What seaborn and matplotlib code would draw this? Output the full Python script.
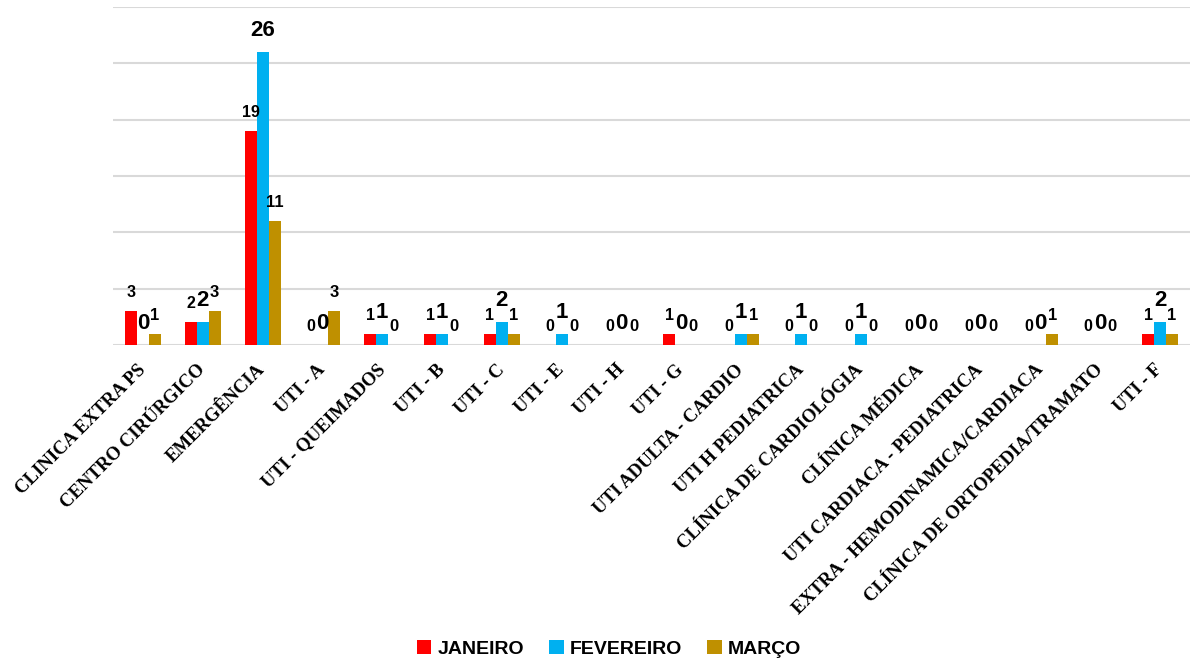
import matplotlib
matplotlib.use("Agg")
import matplotlib.pyplot as plt
import seaborn as sns
import pandas as pd
from matplotlib.patches import Patch
from matplotlib.font_manager import FontProperties

categories = [
    "CLINICA EXTRA PS", "CENTRO CIRÚRGICO", "EMERGÊNCIA", "UTI - A",
    "UTI - QUEIMADOS", "UTI - B", "UTI - C", "UTI - E", "UTI - H", "UTI - G",
    "UTI ADULTA - CARDIO", "UTI H PEDIATRICA", "CLÍNICA DE CARDIOLÓGIA",
    "CLÍNICA MÉDICA", "UTI CARDIACA - PEDIATRICA",
    "EXTRA - HEMODINAMICA/CARDIACA", "CLÍNICA DE ORTOPEDIA/TRAMATO", "UTI - F",
]
janeiro = [3, 2, 19, 0, 1, 1, 1, 0, 0, 1, 0, 0, 0, 0, 0, 0, 0, 1]
fevereiro = [0, 2, 26, 0, 1, 1, 2, 1, 0, 0, 1, 1, 1, 0, 0, 0, 0, 2]
marco = [1, 3, 11, 3, 0, 0, 1, 0, 0, 0, 1, 0, 0, 0, 0, 1, 0, 1]
series_names = ["JANEIRO", "FEVEREIRO", "MARÇO"]
colors = ["#FF0000", "#00B0F0", "#BF9000"]
label_sizes = [11.5, 16, 12]

df = pd.DataFrame({
    "setor": categories * 3,
    "mes": [series_names[0]] * len(categories) + [series_names[1]] * len(categories)
           + [series_names[2]] * len(categories),
    "valor": janeiro + fevereiro + marco,
})

sns.set_theme(style="white")
plt.rcParams["text.color"] = "black"
plt.rcParams["xtick.color"] = "black"
plt.rcParams["xtick.labelcolor"] = "black"

fig = plt.figure(figsize=(11.9, 6.67), dpi=100)
ax = fig.add_axes([113 / 1190, 1 - 345 / 667, 1 - 113 / 1190, (345 - 7) / 667])

sns.barplot(data=df, x="setor", y="valor", hue="mes", hue_order=series_names,
            palette=colors, width=0.6, saturation=1, ax=ax, legend=False,
            linewidth=0, errorbar=None)

ax.set_xlim(-0.5, len(categories) - 0.5)
ax.set_ylim(0, 30)
ax.set_yticks(range(0, 31, 5))
ax.yaxis.grid(True, color="#D9D9D9", linewidth=1.5)
ax.set_axisbelow(True)
ax.tick_params(axis="y", left=False, labelleft=False)
ax.tick_params(axis="x", bottom=False, pad=10, labelcolor="black")
for s in ax.spines.values():
    s.set_visible(False)
ax.set_xlabel("")
ax.set_ylabel("")

ax.set_xticks(range(len(categories)))
ax.set_xticklabels(categories, rotation=45, ha="right", va="center",
                   rotation_mode="anchor", family="Liberation Serif",
                   fontweight="bold", fontsize=13.5, color="black")

for container, fs in zip(ax.containers, label_sizes):
    ax.bar_label(container, fmt="%d", padding=8, fontsize=fs, color="black",
                 fontweight="bold", family="Liberation Sans")

legend_font = FontProperties(family="Liberation Sans", weight="bold", size=14)
handles = [Patch(facecolor=c, edgecolor="none") for c in colors]
leg = fig.legend(handles, series_names, loc="lower center",
                 bbox_to_anchor=(609 / 1190, -0.012), ncol=3, frameon=False,
                 prop=legend_font, handlelength=0.75, handleheight=0.75,
                 handletextpad=0.3, columnspacing=1.3)
for t in leg.get_texts():
    t.set_color("black")

fig.savefig("out.png", dpi=100)
